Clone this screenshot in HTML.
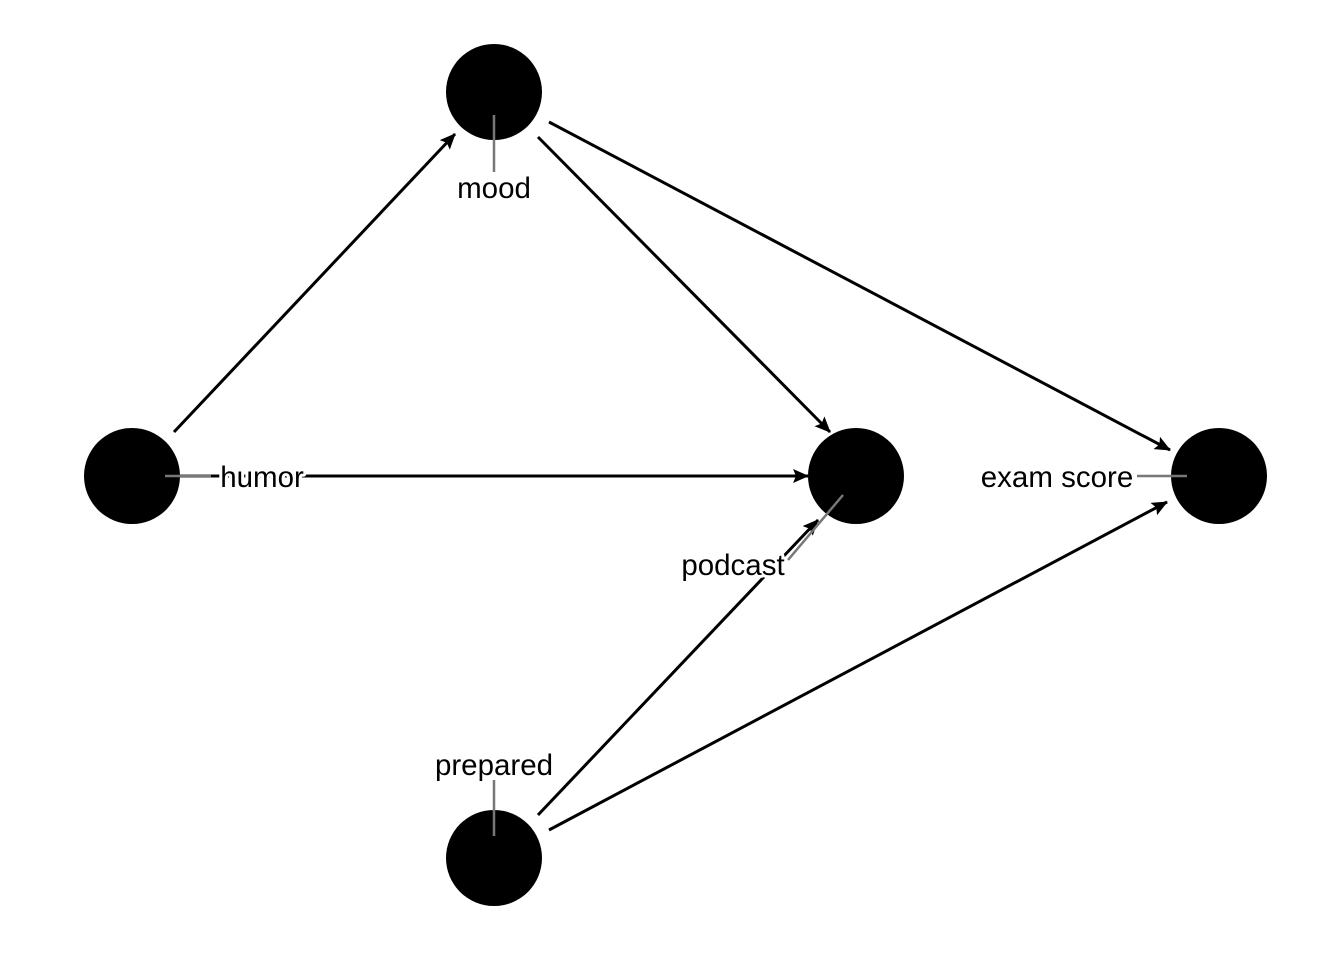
<!DOCTYPE html>
<html><head><style>body{margin:0;background:#fff}svg{display:block}</style></head><body>
<svg width="1344" height="960" viewBox="0 0 1344 960" xmlns="http://www.w3.org/2000/svg">
<defs>
<marker id="b" markerWidth="16" markerHeight="14" refX="15" refY="7" orient="auto" markerUnits="userSpaceOnUse" viewBox="0 0 16 14"><path d="M0,0 L16,7 L0,14 L3,7 Z" fill="#000"/></marker></defs>
<g stroke="#000" stroke-width="3" fill="none" marker-end="url(#b)">
<line x1="174" y1="432" x2="455" y2="134"/>
<line x1="180" y1="476" x2="808" y2="476"/>
<line x1="538" y1="137" x2="830" y2="432"/>
<line x1="549" y1="122" x2="1170" y2="450"/>
<line x1="538" y1="815" x2="818" y2="520"/>
<line x1="549" y1="830" x2="1167" y2="502"/>
</g>
<g fill="#000">
<circle cx="132" cy="476" r="48"/><circle cx="494" cy="92" r="48"/><circle cx="856" cy="476" r="48"/><circle cx="1219" cy="476" r="48"/><circle cx="494" cy="858" r="48"/>
</g>
<g stroke="#777" stroke-width="2.5">
<line x1="494" y1="115" x2="494" y2="172"/><line x1="165" y1="476" x2="211" y2="476"/><line x1="843" y1="495" x2="788" y2="560"/><line x1="1137" y1="476" x2="1187" y2="476"/><line x1="494" y1="780" x2="494" y2="836"/>
</g>
<g font-family="Liberation Sans, sans-serif" font-size="29.5" fill="#000" stroke="#fff" stroke-width="6" paint-order="stroke" stroke-linejoin="round">
<text x="494" y="198" text-anchor="middle">mood</text>
<text x="262" y="487" text-anchor="middle">humor</text>
<text x="733" y="575" text-anchor="middle">podcast</text>
<text x="1057" y="487" text-anchor="middle">exam score</text>
<text x="494" y="775" text-anchor="middle">prepared</text>
</g>
</svg>
</body></html>
